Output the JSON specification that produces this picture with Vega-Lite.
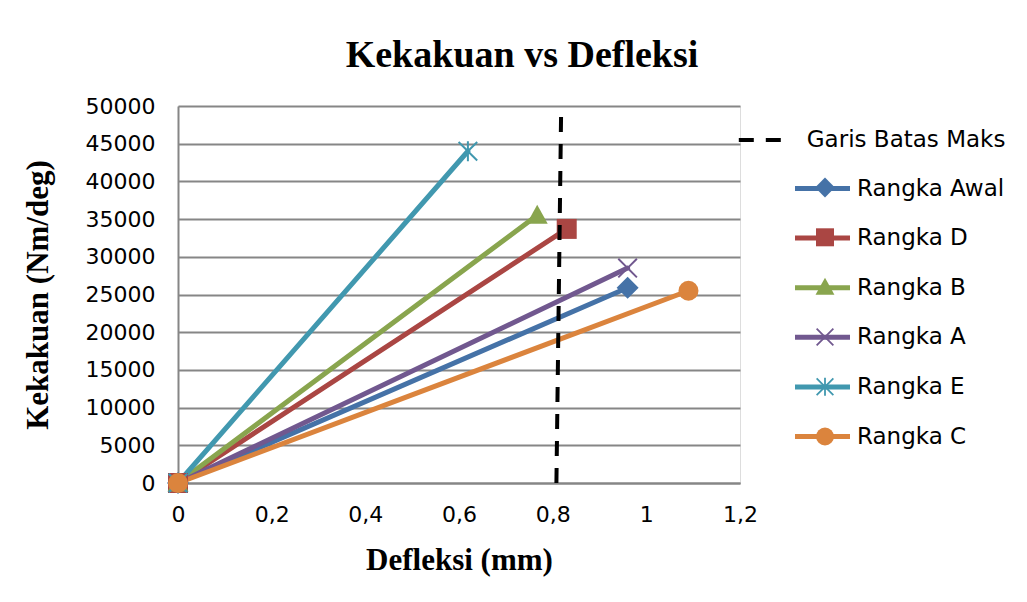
{
  "$schema": "https://vega.github.io/schema/vega-lite/v6.json",
  "width": 562,
  "height": 377,
  "autosize": {"type": "none"},
  "padding": {"left": 178, "top": 106, "right": 287, "bottom": 119},
  "background": "white",
  "title": {
    "text": "Kekakuan vs Defleksi",
    "font": "Liberation Serif",
    "fontSize": 38,
    "fontWeight": "bold",
    "color": "black",
    "anchor": "middle",
    "frame": "group",
    "baseline": "alphabetic",
    "dx": 63,
    "offset": -10
  },
  "data": {
    "values": [
      {"series": "Rangka Awal", "x": 0, "y": 0},
      {"series": "Rangka Awal", "x": 0.96, "y": 25900},
      {"series": "Rangka D", "x": 0, "y": 0},
      {"series": "Rangka D", "x": 0.83, "y": 33700},
      {"series": "Rangka B", "x": 0, "y": 0},
      {"series": "Rangka B", "x": 0.767, "y": 35500},
      {"series": "Rangka A", "x": 0, "y": 0},
      {"series": "Rangka A", "x": 0.96, "y": 28500},
      {"series": "Rangka E", "x": 0, "y": 0},
      {"series": "Rangka E", "x": 0.619, "y": 44000},
      {"series": "Rangka C", "x": 0, "y": 0},
      {"series": "Rangka C", "x": 1.09, "y": 25500},
      {"series": "Garis Batas Maks", "x": 0.808, "y": 0},
      {"series": "Garis Batas Maks", "x": 0.818, "y": 49000}
    ]
  },
  "encoding": {
    "x": {
      "field": "x",
      "type": "quantitative",
      "scale": {"domain": [0, 1.2], "nice": false, "zero": false},
      "axis": {
        "values": [0, 0.2, 0.4, 0.6, 0.8, 1, 1.2],
        "labelExpr": "replace(format(datum.value, '.1~f'), '.', ',')",
        "labelFont": "DejaVu Sans",
        "labelFontSize": 22,
        "labelColor": "black",
        "labelPadding": 21,
        "labelFlush": false,
        "ticks": false,
        "tickSize": 0,
        "grid": false,
        "domain": true,
        "domainColor": "#868686",
        "domainWidth": 2,
        "title": "Defleksi (mm)",
        "titleFont": "Liberation Serif",
        "titleFontSize": 31,
        "titleFontWeight": "bold",
        "titleColor": "black",
        "titlePadding": 20
      }
    },
    "y": {
      "field": "y",
      "type": "quantitative",
      "scale": {"domain": [0, 50000], "nice": false},
      "axis": {
        "values": [0, 5000, 10000, 15000, 20000, 25000, 30000, 35000, 40000, 45000, 50000],
        "format": "d",
        "labelFont": "DejaVu Sans",
        "labelFontSize": 22,
        "labelColor": "black",
        "labelPadding": 23,
        "labelFlush": false,
        "ticks": false,
        "tickSize": 0,
        "grid": true,
        "gridColor": "#868686",
        "gridWidth": 2,
        "domain": true,
        "domainColor": "#868686",
        "domainWidth": 2,
        "title": "Kekakuan (Nm/deg)",
        "titleFont": "Liberation Serif",
        "titleFontSize": 31,
        "titleFontWeight": "bold",
        "titleColor": "black",
        "titlePadding": 31
      }
    }
  },
  "layer": [
    {
      "transform": [{"filter": "datum.series !== 'Garis Batas Maks'"}],
      "mark": {"type": "line", "strokeWidth": 5, "strokeCap": "round"},
      "encoding": {
        "color": {
          "field": "series",
          "type": "nominal",
          "sort": ["Rangka Awal", "Rangka D", "Rangka B", "Rangka A", "Rangka E", "Rangka C"],
          "scale": {"range": ["#4572A7", "#AA4643", "#89A54E", "#71588F", "#4198AF", "#DB843D"]},
          "legend": {
            "orient": "none",
            "legendX": 631,
            "legendY": 69,
            "title": null,
            "padding": 0,
            "symbolType": "M-2.5,0H2.5",
            "symbolSize": 484,
            "symbolStrokeWidth": 5,
            "labelFont": "DejaVu Sans",
            "labelFontSize": 23,
            "labelColor": "black",
            "labelOffset": 21,
            "labelLimit": 300,
            "rowPadding": 23.6
          }
        }
      }
    },
    {
      "transform": [{"filter": "datum.series !== 'Garis Batas Maks'"}],
      "mark": {"type": "point", "filled": true, "size": 400, "strokeWidth": 0, "opacity": 1},
      "encoding": {
        "fill": {
          "field": "series",
          "type": "nominal",
          "scale": {
            "domain": ["Rangka Awal", "Rangka D", "Rangka B", "Rangka A", "Rangka E", "Rangka C"],
            "range": ["#4572A7", "#AA4643", "#89A54E", "#71588F", "#4198AF", "#DB843D"]
          },
          "legend": {
            "orient": "none",
            "legendX": 635.5,
            "legendY": 70,
            "title": null,
            "padding": 0,
            "symbolSize": 324,
            "symbolStrokeWidth": 0,
            "labelFont": "DejaVu Sans",
            "labelFontSize": 23,
            "labelExpr": "''",
            "labelOffset": 21,
            "labelLimit": 300,
            "rowPadding": 25.8
          }
        },
        "shape": {
          "field": "series",
          "type": "nominal",
          "scale": {
            "domain": ["Rangka Awal", "Rangka D", "Rangka B", "Rangka A", "Rangka E", "Rangka C"],
            "range": [
              "M0,-1.1L1.1,0L0,1.1L-1.1,0Z",
              "square",
              "M0,-1.05L1.05,0.85H-1.05Z",
              "M-1,-0.86L-0.86,-1L0,-0.14L0.86,-1L1,-0.86L0.14,0L1,0.86L0.86,1L0,0.14L-0.86,1L-1,0.86L-0.14,0Z",
              "M-1,-0.86L-0.86,-1L0,-0.14L0.86,-1L1,-0.86L0.14,0L1,0.86L0.86,1L0,0.14L-0.86,1L-1,0.86L-0.14,0Z M-0.1,-1H0.1V1H-0.1Z",
              "circle"
            ]
          },
          "legend": {
            "orient": "none",
            "legendX": 635.5,
            "legendY": 70,
            "title": null,
            "padding": 0,
            "symbolSize": 324,
            "symbolStrokeWidth": 0,
            "labelFont": "DejaVu Sans",
            "labelFontSize": 23,
            "labelExpr": "''",
            "labelOffset": 21,
            "labelLimit": 300,
            "rowPadding": 25.8
          }
        }
      }
    },
    {
      "transform": [{"filter": "datum.series === 'Garis Batas Maks'"}],
      "mark": {"type": "line", "color": "black", "strokeWidth": 4},
      "encoding": {
        "strokeDash": {
          "field": "series",
          "type": "nominal",
          "scale": {"domain": ["Garis Batas Maks"], "range": [[15, 12]]},
          "legend": {
            "orient": "none",
            "legendX": 571.8,
            "legendY": 22.5,
            "title": null,
            "padding": 0,
            "symbolType": "M-2.5,0H2.5",
            "symbolSize": 324,
            "symbolStrokeWidth": 4,
            "symbolStrokeColor": "black",
            "labelFont": "DejaVu Sans",
            "labelFontSize": 23,
            "labelColor": "black",
            "labelOffset": 34,
            "labelLimit": 300,
            "encode": {"symbols": {"update": {"strokeDash": {"value": [17, 12]}}}}
          }
        }
      }
    }
  ]
}
